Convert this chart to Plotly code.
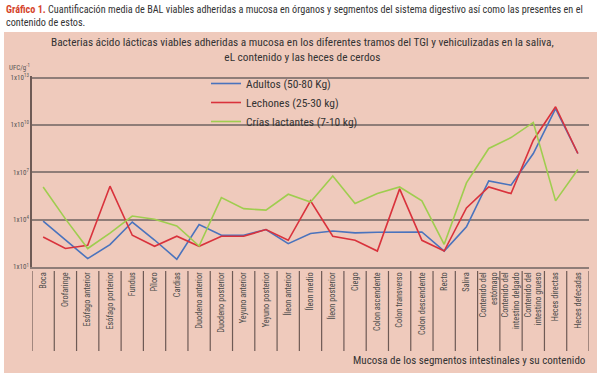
import plotly.graph_objects as go

categories = [
    "Boca", "Orofaringe", "Esófago anterior", "Esófago porterior", "Fundus",
    "Píloro", "Cardias", "Duodeno anterior", "Duodeno posterior",
    "Yeyuno anterior", "Yeyuno posterior", "Íleon anterior", "Íleon medio",
    "Íleon posterior", "Ciego", "Colon ascendente", "Colon transverso",
    "Colon descendente", "Recto", "Saliva", "Contenido del<br>estómago",
    "Contenido del<br>intestino delgado", "Contenido del<br>intestino grueso",
    "Heces directas", "Heces defecadas",
]

# log10(UFC/g)
adultos_log = [3.90, 2.69, 1.53, 2.42, 3.85, 2.71, 1.49, 3.69, 3.01, 3.01, 3.37, 2.48, 3.12,
               3.28, 3.16, 3.20, 3.22, 3.22, 2.01, 3.54, 6.45, 6.18, 8.19, 11.04, 8.19]
lechones_log = [2.90, 2.17, 2.38, 6.12, 3.01, 2.31, 2.95, 2.31, 2.95, 2.95, 3.37, 2.69, 5.19,
                2.95, 2.69, 2.01, 5.95, 2.69, 2.01, 4.74, 6.07, 5.65, 9.03, 11.15, 8.19]
crias_log = [6.07, 4.05, 2.17, 3.15, 4.23, 4.02, 3.60, 2.33, 5.40, 4.70, 4.60, 5.61, 5.12,
             6.77, 5.02, 5.65, 6.07, 5.19, 2.44, 6.33, 8.51, 9.20, 10.16, 5.19, 7.18]

series_names = ["Adultos (50-80 Kg)", "Lechones (25-30 kg)", "Crías lactantes (7-10 kg)"]
series_colors = ["#4a73bd", "#d9323c", "#9fcd4f"]

y_tickvals = [1e1, 1e4, 1e7, 1e10, 1e13]
y_ticktext = ["1x10<sup>1</sup>", "1x10<sup>4</sup>", "1x10<sup>7</sup>",
              "1x10<sup>10</sup>", "1x10<sup>13</sup>"]

FONT = "Liberation Sans Narrow, Roboto Condensed, Roboto, sans-serif"
W, H = 600, 379
L, R, T, B = 32, 11, 76, 112
pw, ph = W - L - R, H - T - B


def px2x(px):
    return (px - L) / pw


def py2y(py):
    return (H - B - py) / ph


fig = go.Figure()
for name, col, vals in zip(series_names, series_colors, [adultos_log, lechones_log, crias_log]):
    fig.add_trace(go.Scatter(
        x=categories, y=[10 ** v for v in vals], mode="lines", name=name,
        line=dict(color=col, width=1.6),
    ))

shapes = [dict(type="rect", xref="paper", yref="paper",
               x0=px2x(4), x1=px2x(597), y0=py2y(373), y1=py2y(32),
               fillcolor="#efcabc", line=dict(width=0), layer="below")]
for i in range(len(categories) + 1):
    shapes.append(dict(type="line", xref="x", yref="paper", x0=i - 0.5, x1=i - 0.5,
                       y0=py2y(271), y1=py2y(351),
                       line=dict(color="#6e5a55", width=1.2)))

annotations = [
    dict(xref="paper", yref="paper", x=px2x(4), y=py2y(2), xanchor="left", yanchor="top",
         align="left", showarrow=False,
         text="<b><span style='color:#d5452c'>Gráfico 1.</span></b> Cuantificación media de BAL viables adheridas a mucosa en órganos y segmentos del sistema digestivo así como las presentes en el<br>contenido de estos.",
         font=dict(family=FONT, size=10.2, color="#333333")),
    dict(xref="paper", yref="paper", x=px2x(302), y=py2y(34), xanchor="center", yanchor="top",
         align="center", showarrow=False,
         text="Bacterias ácido lácticas viables adheridas a mucosa en los diferentes tramos del TGI y vehiculizadas en la saliva,<br>eL contenido y las heces de cerdos",
         font=dict(family=FONT, size=11.3, color="#333333")),
    dict(xref="paper", yref="paper", x=px2x(7), y=py2y(67), xanchor="left", yanchor="middle",
         showarrow=False, text="UFC/g<sup>-1</sup>",
         font=dict(family=FONT, size=7, color="#555555")),
    dict(xref="paper", yref="paper", x=px2x(588), y=py2y(360), xanchor="right", yanchor="middle",
         showarrow=False, text="Mucosa de los segmentos intestinales y su contenido",
         font=dict(family=FONT, size=11, color="#333333")),
]

fig.update_layout(
    width=W, height=H,
    margin=dict(l=L, r=R, t=T, b=B, autoexpand=False),
    paper_bgcolor="white", plot_bgcolor="rgba(0,0,0,0)",
    font=dict(family=FONT, color="#444444"),
    shapes=shapes, annotations=annotations,
    showlegend=True,
    legend=dict(x=px2x(206), y=py2y(69), xanchor="left", yanchor="top",
                bgcolor="rgba(0,0,0,0)", font=dict(family=FONT, size=11.5, color="#333333"),
                itemwidth=30, tracegroupgap=0),
)
fig.update_xaxes(
    type="category", showgrid=False, showline=True, linecolor="#8f7d78", linewidth=2,
    ticks="", tickangle=-90, tickfont=dict(family=FONT, size=8.3, color="#4a4a4a"),
    range=[-0.5, len(categories) - 0.5], fixedrange=True, automargin=False,
)
fig.update_yaxes(
    type="log", range=[1, 13.1], tickvals=y_tickvals, ticktext=y_ticktext,
    showgrid=True, gridcolor="#8f7d78", gridwidth=2, zeroline=False,
    showline=True, linecolor="#6e5a55", linewidth=1.5, automargin=False,
    ticks="", tickfont=dict(family=FONT, size=7, color="#555555"),
)

fig.write_html("out.html", config={"displayModeBar": False},
               post_script="document.body.style.margin='0';document.body.style.overflow='hidden';")
